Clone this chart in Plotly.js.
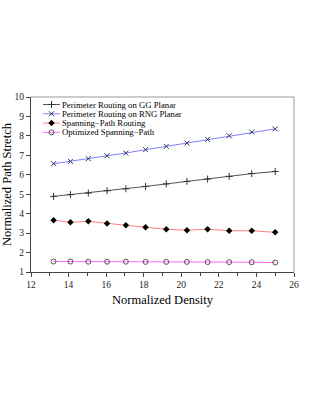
<!DOCTYPE html>
<html>
<head>
<script src="https://cdn.plot.ly/plotly-3.0.1.min.js"></script>
<style>html,body{margin:0;padding:0;background:#fff;}</style>
</head>
<body>
<div id="chart" style="width:316px;height:409px;"></div>
<script>
const density = [13.2, 14.1, 15.05, 16.05, 17.05, 18.1, 19.2, 20.3, 21.4, 22.55, 23.75, 25.0];
const ggPlanar = [4.89, 4.98, 5.06, 5.18, 5.28, 5.40, 5.53, 5.66, 5.78, 5.92, 6.06, 6.17];
const rngPlanar = [6.57, 6.69, 6.83, 6.98, 7.12, 7.29, 7.46, 7.63, 7.82, 8.01, 8.20, 8.36];
const spanning = [3.66, 3.56, 3.61, 3.49, 3.40, 3.30, 3.20, 3.15, 3.20, 3.12, 3.12, 3.04];
const optimized = [1.54, 1.54, 1.53, 1.53, 1.53, 1.52, 1.52, 1.52, 1.51, 1.51, 1.50, 1.49];
const names = ['Perimeter Routing on GG Planar', 'Perimeter Routing on RNG Planar', 'Spanning\u2212Path Routing', 'Optimized Spanning\u2212Path'];

const styles = [
  {line: {color: '#555555', width: 1}, marker: {symbol: 'cross-thin', size: 5, line: {color: '#333333', width: 1}}},
  {line: {color: '#7f7fff', width: 1}, marker: {symbol: 'x-thin', size: 5, line: {color: '#333366', width: 1}}},
  {line: {color: '#ff7f7f', width: 1}, marker: {symbol: 'diamond', size: 5, color: '#000000'}},
  {line: {color: '#ff66ff', width: 1}, marker: {symbol: 'circle-open', size: 5, color: '#555555', line: {width: 1}}}
];
const series = [ggPlanar, rngPlanar, spanning, optimized];

const traces = series.map((s, i) => Object.assign({x: density, y: s, name: names[i], mode: 'lines+markers', showlegend: false}, styles[i]));

// custom compact legend (in an overlay 0..1 coordinate frame)
const legX0 = 0.046, legX1 = 0.11, legTextX = 0.115;
const legY = [0.957, 0.904, 0.851, 0.798];
names.forEach((n, i) => {
  traces.push({x: [legX0, legX1], y: [legY[i], legY[i]],
    mode: 'lines', xaxis: 'x2', yaxis: 'y2', showlegend: false, hoverinfo: 'skip', line: styles[i].line});
  traces.push({x: [(legX0 + legX1) / 2], y: [legY[i]],
    mode: 'markers', xaxis: 'x2', yaxis: 'y2', showlegend: false, hoverinfo: 'skip', marker: styles[i].marker});
});

const fontFam = '"Liberation Serif", "Times New Roman", Times, serif';
const annotations = names.map((n, i) => ({xref: 'x2', yref: 'y2', x: legTextX, y: legY[i], text: n,
  showarrow: false, xanchor: 'left', yanchor: 'middle', borderpad: 0,
  font: {family: fontFam, size: 8.7, color: '#000'}}));

const layout = {
  width: 316, height: 409,
  margin: {l: 31, r: 22, t: 97, b: 137},
  paper_bgcolor: '#ffffff', plot_bgcolor: '#ffffff',
  font: {family: fontFam, color: '#000000', size: 10},
  showlegend: false,
  annotations: annotations,
  xaxis: {range: [12, 26], dtick: 2, tick0: 12, showgrid: false, zeroline: false,
          ticks: 'outside', ticklen: 4, tickcolor: '#444', showline: true, linecolor: '#444', linewidth: 1,
          tickfont: {family: fontFam, size: 9.5, color: '#222'},
          minor: {dtick: 1, ticks: 'outside', ticklen: 3, tickcolor: '#444'},
          title: {text: 'Normalized Density', font: {family: fontFam, size: 12.5}, standoff: 5}},
  yaxis: {range: [1, 10], dtick: 1, showgrid: false, zeroline: false,
          ticks: 'outside', ticklen: 4, tickcolor: '#444', showline: true, linecolor: '#444', linewidth: 1,
          tickfont: {family: fontFam, size: 9.5, color: '#222'},
          title: {text: 'Normalized Path Stretch', font: {family: fontFam, size: 12.5}, standoff: 5}},
  xaxis2: {overlaying: 'x', range: [0, 1], visible: false, fixedrange: true},
  yaxis2: {overlaying: 'y', range: [0, 1], visible: false, fixedrange: true},
  shapes: [
    {type: 'line', xref: 'paper', yref: 'paper', x0: 0, x1: 1, y0: 1, y1: 1, line: {color: '#999', width: 1}},
    {type: 'line', xref: 'paper', yref: 'paper', x0: 1, x1: 1, y0: 0, y1: 1, line: {color: '#999', width: 1}}
  ]
};
Plotly.newPlot('chart', traces, layout, {displayModeBar: false, staticPlot: true});
</script>
</body>
</html>
